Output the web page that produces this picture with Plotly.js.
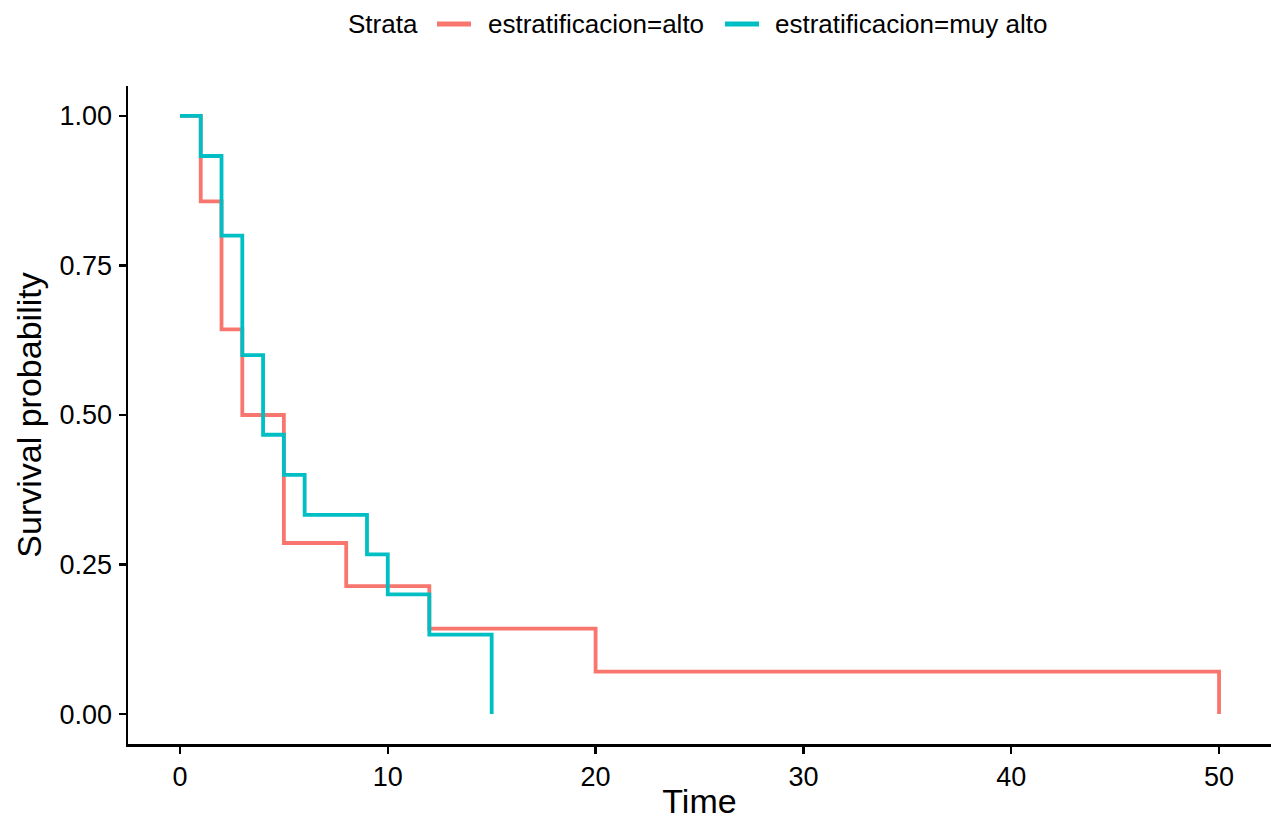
<!DOCTYPE html>
<html>
<head>
<meta charset="utf-8">
<script src="https://cdn.plot.ly/plotly-3.0.1.min.js"></script>
<style>html,body{margin:0;padding:0;background:#fff;}#chart{width:1271px;height:820px;}</style>
</head>
<body>
<div id="chart"></div>
<script>
const altoTime = [0, 1, 2, 3, 5, 8, 12, 20, 50];
const altoSurv = [1, 0.857, 0.643, 0.5, 0.286, 0.214, 0.143, 0.071, 0];
const muyAltoTime = [0, 1, 2, 3, 4, 5, 6, 9, 10, 12, 15];
const muyAltoSurv = [1, 0.933, 0.8, 0.6, 0.467, 0.4, 0.333, 0.267, 0.2, 0.133, 0];
const seriesNames = ['estratificacion=alto', 'estratificacion=muy alto'];
const legendTitle = 'Strata';
const xTicks = [0, 10, 20, 30, 40, 50];
const yTicks = [0, 0.25, 0.5, 0.75, 1];
const yTickLabels = ['0.00', '0.25', '0.50', '0.75', '1.00'];

const colors = ['#F8766D', '#00BFC4'];
const font = 'Liberation Sans, Arial, sans-serif';
const W = 1271, H = 820;
const M = {l: 128, r: 0, t: 86, b: 76};
const pw = W - M.l - M.r, ph = H - M.t - M.b;
const px = v => (v - M.l) / pw;
const py = v => (H - M.b - v) / ph;

const traces = [
  {x: altoTime, y: altoSurv, name: seriesNames[0], type: 'scatter', mode: 'lines',
   line: {shape: 'hv', color: colors[0], width: 3.8}},
  {x: muyAltoTime, y: muyAltoSurv, name: seriesNames[1], type: 'scatter', mode: 'lines',
   line: {shape: 'hv', color: colors[1], width: 3.8}}
];

// custom legend (top, horizontal) in paper coordinates
const legY = py(24);
const legItems = [
  {lineX0: 437, lineX1: 471, textX: 486},
  {lineX0: 725, lineX1: 759, textX: 773}
];
const annotations = [
  {xref: 'paper', yref: 'paper', x: px(346), y: legY, xanchor: 'left', yanchor: 'middle',
   text: legendTitle, showarrow: false, font: {size: 26, color: '#000', family: font}}
];
const shapes = [];
legItems.forEach((it, i) => {
  shapes.push({type: 'line', xref: 'paper', yref: 'paper', x0: px(it.lineX0), x1: px(it.lineX1),
    y0: legY, y1: legY, line: {color: colors[i], width: 5}});
  annotations.push({xref: 'paper', yref: 'paper', x: px(it.textX), y: legY, xanchor: 'left', yanchor: 'middle',
    text: seriesNames[i], showarrow: false, font: {size: 26, color: '#000', family: font}});
});

const layout = {
  width: W, height: H,
  margin: M,
  paper_bgcolor: '#fff', plot_bgcolor: '#fff',
  font: {family: font, color: '#000', size: 26},
  showlegend: false,
  annotations: annotations,
  shapes: shapes,
  xaxis: {range: [-2.5, 52.5], tickvals: xTicks, ticktext: xTicks.map(String),
    automargin: false,
    showgrid: false, zeroline: false, showline: true, linecolor: '#000', linewidth: 2.5,
    ticks: 'outside', ticklen: 7, tickwidth: 2.5, tickcolor: '#000',
    tickfont: {size: 27, color: '#000'},
    title: {text: 'Time', font: {size: 34}, standoff: 11}},
  yaxis: {range: [-0.05, 1.05], tickvals: yTicks, ticktext: yTickLabels,
    automargin: false, ticklabelstandoff: 1,
    showgrid: false, zeroline: false, showline: true, linecolor: '#000', linewidth: 2.5,
    ticks: 'outside', ticklen: 7, tickwidth: 2.5, tickcolor: '#000',
    tickfont: {size: 27, color: '#000'},
    title: {text: 'Survival probability', font: {size: 34}, standoff: 8}}
};
Plotly.newPlot('chart', traces, layout, {displayModeBar: false, staticPlot: true});
</script>
</body>
</html>
